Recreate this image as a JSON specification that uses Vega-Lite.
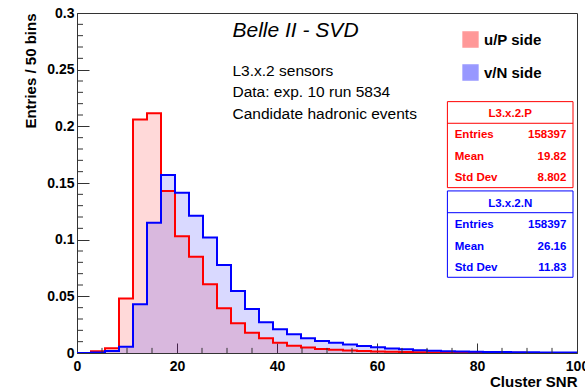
{
  "$schema": "https://vega.github.io/schema/vega-lite/v6.json",
  "width": 500,
  "height": 340,
  "autosize": {"type": "none"},
  "padding": {"left": 77, "top": 13, "right": 8, "bottom": 35},
  "background": "white",
  "config": {
    "font": "Liberation Sans",
    "view": {"stroke": "#333", "strokeWidth": 1},
    "axis": {
      "labelFont": "Liberation Sans", "labelFontWeight": "bold", "labelFontSize": 14, "labelColor": "black",
      "titleFont": "Liberation Sans", "titleFontWeight": "bold", "titleFontSize": 15, "titleColor": "black",
      "domainColor": "#333", "tickColor": "#333", "grid": false
    }
  },
  "datasets": {
    "h": [
      {"side": "u/P side", "lo": 0.0, "hi": 2.8, "v": 0.0},
      {"side": "u/P side", "lo": 2.8, "hi": 5.6, "v": 0.0015},
      {"side": "u/P side", "lo": 5.6, "hi": 8.4, "v": 0.0041},
      {"side": "u/P side", "lo": 8.4, "hi": 11.2, "v": 0.048},
      {"side": "u/P side", "lo": 11.2, "hi": 14.0, "v": 0.206},
      {"side": "u/P side", "lo": 14.0, "hi": 16.8, "v": 0.2116},
      {"side": "u/P side", "lo": 16.8, "hi": 19.6, "v": 0.143},
      {"side": "u/P side", "lo": 19.6, "hi": 22.4, "v": 0.103},
      {"side": "u/P side", "lo": 22.4, "hi": 25.2, "v": 0.085},
      {"side": "u/P side", "lo": 25.2, "hi": 28.0, "v": 0.0606},
      {"side": "u/P side", "lo": 28.0, "hi": 30.8, "v": 0.0394},
      {"side": "u/P side", "lo": 30.8, "hi": 33.6, "v": 0.0262},
      {"side": "u/P side", "lo": 33.6, "hi": 36.4, "v": 0.0179},
      {"side": "u/P side", "lo": 36.4, "hi": 39.2, "v": 0.0130},
      {"side": "u/P side", "lo": 39.2, "hi": 42.0, "v": 0.0091},
      {"side": "u/P side", "lo": 42.0, "hi": 44.8, "v": 0.0065},
      {"side": "u/P side", "lo": 44.8, "hi": 47.6, "v": 0.0048},
      {"side": "u/P side", "lo": 47.6, "hi": 50.4, "v": 0.0036},
      {"side": "u/P side", "lo": 50.4, "hi": 53.2, "v": 0.0028},
      {"side": "u/P side", "lo": 53.2, "hi": 56.0, "v": 0.0022},
      {"side": "u/P side", "lo": 56.0, "hi": 58.8, "v": 0.0017},
      {"side": "u/P side", "lo": 58.8, "hi": 61.6, "v": 0.0013},
      {"side": "u/P side", "lo": 61.6, "hi": 64.4, "v": 0.0010},
      {"side": "u/P side", "lo": 64.4, "hi": 67.2, "v": 0.0008},
      {"side": "u/P side", "lo": 67.2, "hi": 70.0, "v": 0.0006},
      {"side": "u/P side", "lo": 70.0, "hi": 72.8, "v": 0.0005},
      {"side": "u/P side", "lo": 72.8, "hi": 75.6, "v": 0.0004},
      {"side": "u/P side", "lo": 75.6, "hi": 78.4, "v": 0.0003},
      {"side": "u/P side", "lo": 78.4, "hi": 81.2, "v": 0.0003},
      {"side": "u/P side", "lo": 81.2, "hi": 84.0, "v": 0.0002},
      {"side": "u/P side", "lo": 84.0, "hi": 86.8, "v": 0.0002},
      {"side": "u/P side", "lo": 86.8, "hi": 89.6, "v": 0.0002},
      {"side": "u/P side", "lo": 89.6, "hi": 92.4, "v": 0.0001},
      {"side": "u/P side", "lo": 92.4, "hi": 95.2, "v": 0.0001},
      {"side": "u/P side", "lo": 95.2, "hi": 98.0, "v": 0.0001},
      {"side": "u/P side", "lo": 98.0, "hi": 100.8, "v": 0.0001},
      {"side": "u/P side", "lo": 100.8, "hi": 103.6, "v": 0.0001},
      {"side": "v/N side", "lo": 0.0, "hi": 2.8, "v": 0.0},
      {"side": "v/N side", "lo": 2.8, "hi": 5.6, "v": 0.0005},
      {"side": "v/N side", "lo": 5.6, "hi": 8.4, "v": 0.0018},
      {"side": "v/N side", "lo": 8.4, "hi": 11.2, "v": 0.0056},
      {"side": "v/N side", "lo": 11.2, "hi": 14.0, "v": 0.043},
      {"side": "v/N side", "lo": 14.0, "hi": 16.8, "v": 0.115},
      {"side": "v/N side", "lo": 16.8, "hi": 19.6, "v": 0.157},
      {"side": "v/N side", "lo": 19.6, "hi": 22.4, "v": 0.1415},
      {"side": "v/N side", "lo": 22.4, "hi": 25.2, "v": 0.121},
      {"side": "v/N side", "lo": 25.2, "hi": 28.0, "v": 0.102},
      {"side": "v/N side", "lo": 28.0, "hi": 30.8, "v": 0.0777},
      {"side": "v/N side", "lo": 30.8, "hi": 33.6, "v": 0.0547},
      {"side": "v/N side", "lo": 33.6, "hi": 36.4, "v": 0.0388},
      {"side": "v/N side", "lo": 36.4, "hi": 39.2, "v": 0.0271},
      {"side": "v/N side", "lo": 39.2, "hi": 42.0, "v": 0.0209},
      {"side": "v/N side", "lo": 42.0, "hi": 44.8, "v": 0.0165},
      {"side": "v/N side", "lo": 44.8, "hi": 47.6, "v": 0.0130},
      {"side": "v/N side", "lo": 47.6, "hi": 50.4, "v": 0.0105},
      {"side": "v/N side", "lo": 50.4, "hi": 53.2, "v": 0.0090},
      {"side": "v/N side", "lo": 53.2, "hi": 56.0, "v": 0.0075},
      {"side": "v/N side", "lo": 56.0, "hi": 58.8, "v": 0.0062},
      {"side": "v/N side", "lo": 58.8, "hi": 61.6, "v": 0.0050},
      {"side": "v/N side", "lo": 61.6, "hi": 64.4, "v": 0.0040},
      {"side": "v/N side", "lo": 64.4, "hi": 67.2, "v": 0.0032},
      {"side": "v/N side", "lo": 67.2, "hi": 70.0, "v": 0.0025},
      {"side": "v/N side", "lo": 70.0, "hi": 72.8, "v": 0.0020},
      {"side": "v/N side", "lo": 72.8, "hi": 75.6, "v": 0.0016},
      {"side": "v/N side", "lo": 75.6, "hi": 78.4, "v": 0.0013},
      {"side": "v/N side", "lo": 78.4, "hi": 81.2, "v": 0.0011},
      {"side": "v/N side", "lo": 81.2, "hi": 84.0, "v": 0.0009},
      {"side": "v/N side", "lo": 84.0, "hi": 86.8, "v": 0.0008},
      {"side": "v/N side", "lo": 86.8, "hi": 89.6, "v": 0.0007},
      {"side": "v/N side", "lo": 89.6, "hi": 92.4, "v": 0.0006},
      {"side": "v/N side", "lo": 92.4, "hi": 95.2, "v": 0.0005},
      {"side": "v/N side", "lo": 95.2, "hi": 98.0, "v": 0.0005},
      {"side": "v/N side", "lo": 98.0, "hi": 100.8, "v": 0.0004},
      {"side": "v/N side", "lo": 100.8, "hi": 103.6, "v": 0.0003}
    ],
    "xminor": [{"t": 5}, {"t": 10}, {"t": 15}, {"t": 25}, {"t": 30}, {"t": 35}, {"t": 45}, {"t": 50}, {"t": 55}, {"t": 65}, {"t": 70}, {"t": 75}, {"t": 85}, {"t": 90}, {"t": 95}],
    "yminor": [{"t": 0.01}, {"t": 0.02}, {"t": 0.03}, {"t": 0.04}, {"t": 0.06}, {"t": 0.07}, {"t": 0.08}, {"t": 0.09}, {"t": 0.11}, {"t": 0.12}, {"t": 0.13}, {"t": 0.14}, {"t": 0.16}, {"t": 0.17}, {"t": 0.18}, {"t": 0.19}, {"t": 0.21}, {"t": 0.22}, {"t": 0.23}, {"t": 0.24}, {"t": 0.26}, {"t": 0.27}, {"t": 0.28}, {"t": 0.29}]
  },
  "layer": [
    {
      "data": {"name": "h"},
      "mark": {"type": "rect", "clip": true, "fillOpacity": 0.15, "strokeWidth": 0},
      "encoding": {
        "x": {"field": "lo", "type": "quantitative", "scale": {"domain": [0, 100], "nice": false},
          "axis": {"orient": "bottom", "values": [0, 20, 40, 60, 80, 100], "format": "d", "tickSize": -10, "labelPadding": 16, "labelFlush": false, "labelOverlap": false, "title": "Cluster SNR", "titleAnchor": "end", "titlePadding": 1}},
        "x2": {"field": "hi"},
        "y": {"field": "v", "type": "quantitative", "scale": {"domain": [0, 0.3], "nice": false},
          "axis": {"orient": "left", "values": [0, 0.05, 0.1, 0.15, 0.2, 0.25, 0.3], "format": "~g", "tickSize": -12, "labelPadding": 15, "labelFlush": false, "labelOverlap": false, "title": "Entries / 50 bins", "titleAnchor": "end", "titlePadding": 8}},
        "y2": {"datum": 0},
        "fill": {"field": "side", "type": "nominal", "scale": {"domain": ["u/P side", "v/N side"], "range": ["#ff0000", "#0000ff"]},
          "legend": {"orient": "none", "legendX": 385, "legendY": 18, "title": null, "symbolType": "square", "symbolSize": 220, "symbolOpacity": 0.4, "labelFont": "Liberation Sans", "labelFontSize": 15, "labelFontWeight": "bold", "labelColor": "black", "rowPadding": 12, "labelOffset": 5}}
      }
    },
    {
      "data": {"name": "h"},
      "mark": {"type": "line", "interpolate": "step-after", "clip": true, "strokeWidth": 2},
      "encoding": {
        "x": {"field": "lo", "type": "quantitative"},
        "y": {"field": "v", "type": "quantitative"},
        "stroke": {"field": "side", "type": "nominal", "scale": {"domain": ["u/P side", "v/N side"], "range": ["#ff0000", "#0000ff"]}, "legend": null}
      }
    },
    {
      "data": {"name": "xminor"},
      "mark": {"type": "rule", "stroke": "#333", "strokeWidth": 1},
      "encoding": {"x": {"field": "t", "type": "quantitative"}, "y": {"datum": 0, "type": "quantitative"}, "y2": {"datum": 0.0045}}
    },
    {
      "data": {"name": "yminor"},
      "mark": {"type": "rule", "stroke": "#333", "strokeWidth": 1},
      "encoding": {"y": {"field": "t", "type": "quantitative"}, "x": {"datum": 0, "type": "quantitative"}, "x2": {"datum": 1.2}}
    },
    {
      "data": {"values": [{}]},
      "mark": {"type": "text", "text": "Belle II - SVD", "align": "left", "baseline": "alphabetic", "fontSize": 21, "fontStyle": "italic", "font": "Liberation Sans", "color": "black"},
      "encoding": {"x": {"datum": 31.1, "type": "quantitative"}, "y": {"datum": 0.2786, "type": "quantitative"}}
    },
    {
      "data": {"values": [{}]},
      "mark": {"type": "text", "text": ["L3.x.2 sensors", "Data: exp. 10 run 5834", "Candidate hadronic events"], "lineHeight": 21.5, "align": "left", "baseline": "alphabetic", "fontSize": 15.5, "font": "Liberation Sans", "color": "black"},
      "encoding": {"x": {"datum": 31.1, "type": "quantitative"}, "y": {"datum": 0.2445, "type": "quantitative"}}
    },
    {
      "data": {"values": [{}]},
      "mark": {"type": "rect", "fill": "white", "stroke": "#ff0000", "strokeWidth": 1},
      "encoding": {"x": {"datum": 74.08, "type": "quantitative"}, "x2": {"datum": 99.2}, "y": {"datum": 0.2218, "type": "quantitative"}, "y2": {"datum": 0.1459}}
    },
    {
      "data": {"values": [{}]},
      "mark": {"type": "rule", "stroke": "#ff0000", "strokeWidth": 1},
      "encoding": {"x": {"datum": 74.08, "type": "quantitative"}, "x2": {"datum": 99.2}, "y": {"datum": 0.2027, "type": "quantitative"}}
    },
    {
      "data": {"values": [{}]},
      "mark": {"type": "text", "text": "L3.x.2.P", "align": "center", "baseline": "alphabetic", "fontSize": 11.5, "fontWeight": "bold", "font": "Liberation Sans", "color": "#ff0000"},
      "encoding": {"x": {"datum": 86.64, "type": "quantitative"}, "y": {"datum": 0.2086, "type": "quantitative"}}
    },
    {
      "data": {"values": [{}]},
      "mark": {"type": "text", "text": ["Entries", "Mean", "Std Dev"], "lineHeight": 21.4, "align": "left", "baseline": "alphabetic", "fontSize": 11.5, "fontWeight": "bold", "font": "Liberation Sans", "color": "#ff0000"},
      "encoding": {"x": {"datum": 75.54, "type": "quantitative"}, "y": {"datum": 0.1895, "type": "quantitative"}}
    },
    {
      "data": {"values": [{}]},
      "mark": {"type": "text", "text": ["158397", "19.82", "8.802"], "lineHeight": 21.4, "align": "right", "baseline": "alphabetic", "fontSize": 11.5, "fontWeight": "bold", "font": "Liberation Sans", "color": "#ff0000"},
      "encoding": {"x": {"datum": 97.88, "type": "quantitative"}, "y": {"datum": 0.1895, "type": "quantitative"}}
    },
    {
      "data": {"values": [{}]},
      "mark": {"type": "rect", "fill": "white", "stroke": "#0000ff", "strokeWidth": 1},
      "encoding": {"x": {"datum": 74.08, "type": "quantitative"}, "x2": {"datum": 99.2}, "y": {"datum": 0.143, "type": "quantitative"}, "y2": {"datum": 0.0668}}
    },
    {
      "data": {"values": [{}]},
      "mark": {"type": "rule", "stroke": "#0000ff", "strokeWidth": 1},
      "encoding": {"x": {"datum": 74.08, "type": "quantitative"}, "x2": {"datum": 99.2}, "y": {"datum": 0.1238, "type": "quantitative"}}
    },
    {
      "data": {"values": [{}]},
      "mark": {"type": "text", "text": "L3.x.2.N", "align": "center", "baseline": "alphabetic", "fontSize": 11.5, "fontWeight": "bold", "font": "Liberation Sans", "color": "#0000ff"},
      "encoding": {"x": {"datum": 86.64, "type": "quantitative"}, "y": {"datum": 0.1286, "type": "quantitative"}}
    },
    {
      "data": {"values": [{}]},
      "mark": {"type": "text", "text": ["Entries", "Mean", "Std Dev"], "lineHeight": 21.4, "align": "left", "baseline": "alphabetic", "fontSize": 11.5, "fontWeight": "bold", "font": "Liberation Sans", "color": "#0000ff"},
      "encoding": {"x": {"datum": 75.54, "type": "quantitative"}, "y": {"datum": 0.1101, "type": "quantitative"}}
    },
    {
      "data": {"values": [{}]},
      "mark": {"type": "text", "text": ["158397", "26.16", "11.83"], "lineHeight": 21.4, "align": "right", "baseline": "alphabetic", "fontSize": 11.5, "fontWeight": "bold", "font": "Liberation Sans", "color": "#0000ff"},
      "encoding": {"x": {"datum": 97.88, "type": "quantitative"}, "y": {"datum": 0.1101, "type": "quantitative"}}
    }
  ]
}
